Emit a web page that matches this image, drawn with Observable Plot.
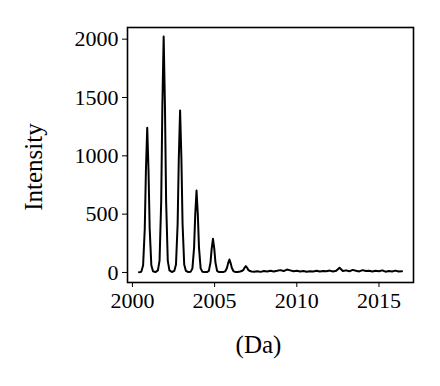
<!DOCTYPE html>
<html>
<head>
<meta charset="utf-8">
<script src="https://cdn.jsdelivr.net/npm/d3@7"></script>
<script src="https://cdn.jsdelivr.net/npm/@observablehq/plot@0.6"></script>
<style>
  html, body { margin: 0; padding: 0; background: #fff; }
  #chart { width: 440px; height: 386px; }
</style>
</head>
<body>
<div id="chart"></div>
<script>
// m/z (Da) sample positions
const mz = [
  2000.40, 2000.50,
  2000.55, 2000.65, 2000.75, 2000.82, 2000.90, 2000.98, 2001.05, 2001.15, 2001.25,
  2001.40,
  2001.55, 2001.65, 2001.75, 2001.82, 2001.90, 2001.98, 2002.05, 2002.15, 2002.25,
  2002.40,
  2002.55, 2002.65, 2002.75, 2002.82, 2002.90, 2002.98, 2003.05, 2003.15, 2003.25,
  2003.40,
  2003.55, 2003.65, 2003.75, 2003.82, 2003.90, 2003.98, 2004.05, 2004.15, 2004.25,
  2004.40,
  2004.55, 2004.65, 2004.75, 2004.82, 2004.90, 2004.98, 2005.05, 2005.15, 2005.25,
  2005.40,
  2005.55, 2005.65, 2005.75, 2005.82, 2005.90, 2005.98, 2006.05, 2006.15, 2006.25,
  2006.40,
  2006.55, 2006.65, 2006.75, 2006.82, 2006.90, 2006.98, 2007.05, 2007.15, 2007.25,
  2007.40, 2007.60, 2007.80, 2008.00, 2008.20, 2008.40, 2008.60, 2008.80, 2009.00, 2009.20,
  2009.40, 2009.60, 2009.80, 2010.00, 2010.20, 2010.40, 2010.60, 2010.80, 2011.00, 2011.20,
  2011.40, 2011.60, 2011.80, 2012.00, 2012.20, 2012.40, 2012.60, 2012.80, 2013.00, 2013.20,
  2013.40, 2013.60, 2013.80, 2014.00, 2014.20, 2014.40, 2014.60, 2014.80, 2015.00, 2015.20,
  2015.40, 2015.60, 2015.80, 2016.00, 2016.20, 2016.40
];
// Intensity values
const intensity = [
  2, 3,
  10, 62, 372, 868, 1240, 868, 372, 62, 10,
  3,
  18, 101, 607, 1415, 2022, 1415, 607, 101, 18,
  4,
  14, 69, 416, 972, 1388, 972, 416, 69, 14,
  4,
  7, 35, 211, 492, 703, 492, 211, 35, 7,
  3,
  4, 14, 87, 202, 289, 202, 87, 14, 4,
  3,
  5, 10, 38, 78, 111, 78, 38, 10, 5,
  4,
  8, 12, 22, 40, 54, 40, 22, 12, 8,
  6, 10, 5, 12, 8, 15, 9, 14, 20, 12,
  25, 18, 10, 14, 8, 12, 6, 10, 9, 14,
  8, 12, 10, 16, 9, 14, 40, 12, 18, 10,
  22, 14, 9, 20, 12, 15, 8, 14, 10, 18,
  7, 12, 9, 16, 8, 10
];
const xTicks = [2000, 2005, 2010, 2015];
const yTicks = [0, 500, 1000, 1500, 2000];
const xLabel = "(Da)";
const yLabel = "Intensity";

const data = mz.map((m, i) => ({mz: m, intensity: intensity[i]}));
const font = "'Liberation Serif', 'DejaVu Serif', serif";

const chart = Plot.plot({
  width: 440,
  height: 386,
  marginLeft: 127,
  marginRight: 27,
  marginTop: 27,
  marginBottom: 104,
  style: {fontFamily: font, fontSize: "22px", color: "black", background: "white"},
  x: {domain: [1999.7, 2017.1], ticks: xTicks, tickFormat: d => String(d), tickSize: 5, tickPadding: 5, label: null},
  y: {domain: [-86, 2100], ticks: yTicks, tickFormat: d => String(d), tickSize: 5, tickPadding: 4, label: null},
  marks: [
    Plot.frame({stroke: "black", strokeWidth: 1.6}),
    Plot.line(data, {x: "mz", y: "intensity", stroke: "black", strokeWidth: 2}),
    Plot.text([xLabel], {text: d => d, frameAnchor: "bottom", dy: 70, dx: -12, fontSize: 25, fontFamily: font, fill: "black"}),
    Plot.text([yLabel], {text: d => d, frameAnchor: "left", textAnchor: "middle", dx: -94, dy: 12, rotate: -90, fontSize: 25, fontFamily: font, fill: "black"})
  ]
});
document.getElementById("chart").appendChild(chart);
</script>
</body>
</html>
